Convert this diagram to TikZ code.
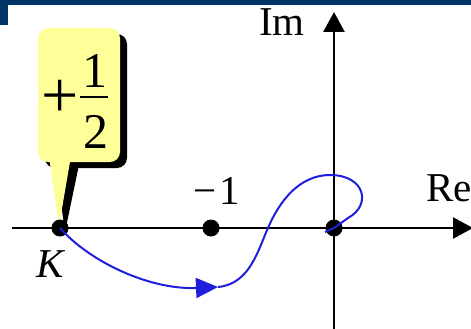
\documentclass[tikz,border=0pt]{standalone}
\usepackage{fontspec}
\setmainfont{Liberation Serif}
\usetikzlibrary{arrows.meta}
\definecolor{navy}{RGB}{0,51,102}
\definecolor{calloutyellow}{RGB}{255,255,153}
\definecolor{curveblue}{RGB}{30,30,220}
\tikzset{
  axis/.style={line width=2.6pt, draw=black},
  bigtip/.style={-{Triangle[length=20pt,width=21pt]}},
  pole/.style={circle, fill=black, inner sep=0pt, minimum size=17pt},
  lbl/.style={font=\fontsize{41}{46}\selectfont, inner sep=0pt},
  fraclbl/.style={font=\fontsize{50}{56}\selectfont, inner sep=0pt},
  locus/.style={draw=curveblue, line width=2pt},
}
\begin{document}
\begin{tikzpicture}[x=1pt,y=-1pt]
\useasboundingbox (0,0) rectangle (471,329);
% header band
\fill[navy] (0,0) rectangle (471,5);
\fill[navy] (0,0) rectangle (8,25);
% axes
\coordinate (xl) at (12,228);
\coordinate (xr) at (473,228);
\coordinate (yb) at (334,329);
\coordinate (yt) at (334,12);
\draw[axis, bigtip] (xl) -- (xr);
\draw[axis, bigtip] (yb) -- (yt);
\node[lbl, anchor=west] (re) at (426,188) {Re};
\node[lbl] (im) at (282,22) {Im};
% callout shadow
\fill[black, rounded corners=10pt] (45,34) rectangle (127,168);
\fill[black] (55,160) -- (65,232) -- (80,160) -- cycle;
% callout
\fill[calloutyellow, rounded corners=10pt] (38,28) rectangle (120,162);
\fill[calloutyellow] (48,150) -- (59,226) -- (72,150) -- cycle;
\node[font=\fontsize{66}{72}\selectfont, inner sep=0pt] (plus) at (60,99) {+};
\node[fraclbl] (num) at (95,71) {1};
\node[fraclbl] (den) at (96,132) {2};
\coordinate (barl) at (80,97);
\coordinate (barr) at (108,97);
\draw[line width=1.6pt] (barl) -- (barr);
% locus
\node[pole] (K) at (60,228) {};
\node[pole] (m1) at (211,228) {};
\node[pole] (O) at (334,228) {};
\coordinate (A) at (218,287);
\draw[locus, -{Triangle[length=22pt,width=20pt]}] (K.center) .. controls (90,262) and (150,290) .. (A);
\draw[locus] (A) .. controls (250,284) and (258,250) .. (268,228)
  .. controls (280,200) and (300,175) .. (330,175)
  .. controls (365,175) and (372,205) .. (348,218) -- (O.center) -- (325,232);
\node[lbl] (mone) at (217,191) {−\kern3pt1};
\node[lbl, font=\fontsize{41}{46}\selectfont\itshape] (k) at (50,264) {K};
\end{tikzpicture}
\end{document}
